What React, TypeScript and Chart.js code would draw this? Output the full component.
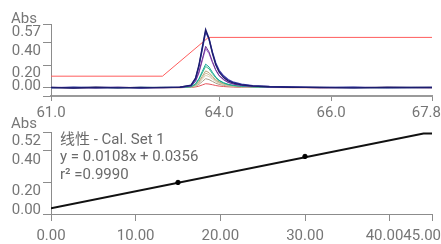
import React, { useEffect, useRef } from "react";
import { Chart, registerables } from "chart.js";

Chart.register(...registerables);

// ---------- Chromatogram (top) ----------
const retentionTimes = [61.0, 61.4, 61.8, 62.2, 62.6, 63.0, 63.3, 63.5, 63.58, 63.64, 63.7, 63.76, 63.82, 63.88, 63.94, 64.0, 64.08, 64.16, 64.26, 64.4, 64.6, 64.9, 65.3, 65.8, 66.4, 67.0, 67.8];

const seriesNavy = [0.002, -0.003, 0.003, -0.002, 0.002, 0.0, 0.004, 0.022, 0.085, 0.2, 0.36, 0.52, 0.44, 0.31, 0.205, 0.14, 0.09, 0.06, 0.04, 0.025, 0.015, 0.008, 0.004, 0.002, -0.002, 0.003, 0.001];
const seriesBlue = [-0.002, 0.003, -0.001, 0.002, -0.003, 0.002, 0.003, 0.02, 0.08, 0.19, 0.345, 0.5, 0.435, 0.32, 0.22, 0.155, 0.105, 0.072, 0.048, 0.03, 0.018, 0.01, 0.005, 0.001, 0.003, -0.002, 0.002];
const seriesPurple = [0.001, -0.002, 0.002, 0.003, -0.001, 0.002, 0.002, 0.015, 0.06, 0.14, 0.255, 0.37, 0.32, 0.235, 0.16, 0.11, 0.072, 0.048, 0.032, 0.02, 0.012, 0.006, 0.003, -0.001, 0.002, 0.001, -0.001];
const seriesViolet = [0.003, 0.001, -0.002, 0.001, 0.002, -0.002, 0.003, 0.013, 0.055, 0.13, 0.24, 0.35, 0.305, 0.225, 0.155, 0.105, 0.07, 0.046, 0.03, 0.019, 0.011, 0.006, 0.002, 0.002, -0.001, 0.002, 0.0];
const seriesTeal = [-0.001, 0.002, 0.001, -0.002, 0.003, 0.001, 0.002, 0.009, 0.035, 0.08, 0.145, 0.21, 0.185, 0.138, 0.095, 0.066, 0.044, 0.03, 0.02, 0.013, 0.008, 0.004, 0.002, 0.001, 0.002, -0.001, 0.001];
const seriesGreen = [0.002, -0.001, 0.002, 0.001, -0.002, 0.003, 0.001, 0.008, 0.03, 0.072, 0.13, 0.19, 0.168, 0.126, 0.088, 0.061, 0.041, 0.028, 0.018, 0.012, 0.007, 0.004, 0.001, 0.002, -0.001, 0.001, 0.002];
const seriesTan1 = [0.0, 0.002, -0.002, 0.002, 0.001, 0.002, -0.001, 0.006, 0.024, 0.056, 0.102, 0.15, 0.134, 0.102, 0.072, 0.051, 0.035, 0.024, 0.016, 0.01, 0.006, 0.003, 0.002, -0.001, 0.001, 0.002, 0.0];
const seriesTan2 = [0.001, -0.002, 0.001, 0.0, 0.002, -0.001, 0.002, 0.005, 0.02, 0.048, 0.088, 0.13, 0.116, 0.089, 0.063, 0.045, 0.031, 0.021, 0.014, 0.009, 0.005, 0.003, 0.001, 0.002, 0.0, -0.001, 0.001];
const seriesTan3 = [-0.002, 0.001, 0.002, -0.001, 0.0, 0.002, 0.001, 0.004, 0.017, 0.04, 0.074, 0.11, 0.099, 0.076, 0.054, 0.039, 0.027, 0.018, 0.012, 0.008, 0.005, 0.002, 0.002, 0.0, 0.001, 0.002, -0.001];
const seriesGrey = [0.002, 0.0, -0.001, 0.002, 0.001, 0.0, 0.002, 0.003, 0.012, 0.029, 0.054, 0.08, 0.072, 0.056, 0.04, 0.029, 0.02, 0.014, 0.009, 0.006, 0.004, 0.002, 0.0, 0.001, 0.002, 0.0, 0.001];
const seriesRed = [0.001, -0.001, 0.002, 0.0, -0.002, 0.001, 0.0, 0.002, 0.006, 0.013, 0.024, 0.035, 0.032, 0.026, 0.019, 0.014, 0.01, 0.007, 0.005, 0.003, 0.002, 0.001, 0.0, -0.001, 0.001, 0.0, 0.002];

const chromSeries = [seriesNavy, seriesBlue, seriesPurple, seriesViolet, seriesTeal, seriesGreen, seriesTan1, seriesTan2, seriesTan3, seriesGrey, seriesRed];
const chromColors = ["#1c1c6e", "#3a3aa8", "#6b2d92", "#9d62c8", "#12a396", "#3cbf8a", "#b8a47c", "#cbbd98", "#dad0b4", "#a79e88", "#e5535b"];

const methodTimes = [61.0, 62.99, 63.81, 67.8];
const methodValues = [0.1025, 0.1025, 0.45, 0.45];

const chromXTicks = [61.0, 64.0, 66.0, 67.8];
const chromYMin = -0.075;
const chromYTicks = [chromYMin, 0, 0.2, 0.4, 0.57];

// ---------- Calibration (bottom) ----------
const calConc = [15, 30];
const calAbs = [0.2, 0.365];
const fitConc = [0, 44, 45];
const fitAbs = [0.0356, 0.5108, 0.5108];
const calXTicks = [0, 10, 20, 30, 40, 45];
const calYTicks = [0, 0.2, 0.4, 0.52];
const annotationLines = ["线性 - Cal. Set 1", "y = 0.0108x + 0.0356", "r² =0.9990"];
const axisTitle = "Abs";

const FONT = "Roboto, 'Noto Sans CJK SC', sans-serif";
const TEXT = "#767676";
const AXIS = "#8c8c8c";

function makeLabelTweak(yShift: number, zeroShift: number) {
  return {
    id: "labelTweak",
    beforeDraw(chart: any) {
      const ctx = chart.ctx;
      const xs = chart.scales.x;
      const ys = chart.scales.y;
      const xItems = xs.getLabelItems();
      ctx.save();
      const widths = xItems.map((it: any) => {
        ctx.font = it.font.string;
        return ctx.measureText(String(it.label)).width;
      });
      ctx.restore();
      for (let i = xItems.length - 1; i >= 0; i--) {
        const tr = xItems[i].options.translation;
        let limit = chart.width - widths[i] / 2;
        if (i < xItems.length - 1) {
          limit = Math.min(limit, xItems[i + 1].options.translation[0] - widths[i + 1] / 2 - widths[i] / 2);
        }
        tr[0] = Math.min(tr[0], limit);
      }
      const yItems = ys.getLabelItems();
      yItems.forEach((it: any) => {
        if (it.label === "") return;
        it.options.translation[1] += it.label === "0.00" ? zeroShift : yShift;
      });
    },
  };
}

function makeTextPlugin(titleBaseline: number, lines: string[], firstBaseline: number, lineGap: number) {
  return {
    id: "texts",
    afterDraw(chart: any) {
      const ctx = chart.ctx;
      ctx.save();
      ctx.font = `15px ${FONT}`;
      ctx.fillStyle = TEXT;
      ctx.textAlign = "left";
      ctx.textBaseline = "alphabetic";
      ctx.fillText(axisTitle, 11, titleBaseline);
      ctx.fillStyle = "#6a6a6a";
      lines.forEach((ln, i) => ctx.fillText(ln, 60, firstBaseline + i * lineGap));
      ctx.restore();
    },
  };
}

function axisCommon(tickLength: number) {
  return {
    grid: { display: true, drawOnChartArea: false, drawTicks: true, tickLength, color: AXIS },
    border: { display: true, color: AXIS, width: 1 },
  };
}

function ChromChart() {
  const ref = useRef<HTMLCanvasElement>(null);
  useEffect(() => {
    const datasets: any[] = chromSeries.map((s, k) => ({
      data: retentionTimes.map((t, i) => ({ x: t, y: s[i] })),
      borderColor: chromColors[k],
      borderWidth: k < 2 ? 1.4 : 1,
      showLine: true,
      pointRadius: 0,
      tension: 0,
    }));
    datasets.push({
      data: methodTimes.map((t, i) => ({ x: t, y: methodValues[i] })),
      borderColor: "#ff5c5c",
      borderWidth: 1,
      showLine: true,
      pointRadius: 0,
      tension: 0,
    });
    const chart = new Chart(ref.current!, {
      type: "scatter",
      data: { datasets },
      options: {
        responsive: false,
        animation: false,
        layout: { padding: { top: 24, right: 9, left: 0, bottom: 0 } },
        plugins: { legend: { display: false }, tooltip: { enabled: false } },
        scales: {
          x: {
            type: "linear",
            min: 61.0,
            max: 67.8,
            ...axisCommon(5),
            border: { display: true, color: "#9a9a9a", width: 2 },
            afterBuildTicks: (s: any) => { s.ticks = chromXTicks.map((v) => ({ value: v })); },
            afterFit: (s: any) => { s.paddingLeft = 0; s.paddingRight = 0; s.height = 24; },
            ticks: {
              autoSkip: false, maxRotation: 0, minRotation: 0, padding: 3,
              color: TEXT, font: { family: FONT, size: 15 },
              callback: (v: any) => Number(v).toFixed(1),
            },
          },
          y: {
            type: "linear",
            min: chromYMin,
            max: 0.57,
            ...axisCommon(8),
            afterBuildTicks: (s: any) => { s.ticks = chromYTicks.map((v) => ({ value: v })); },
            afterFit: (s: any) => { s.width = 51; s.paddingTop = 0; s.paddingBottom = 0; },
            ticks: {
              autoSkip: false, padding: 2,
              color: TEXT, font: { family: FONT, size: 15 },
              callback: (v: any) => (Number(v) === chromYMin ? "" : Number(v).toFixed(2)),
            },
          },
        },
      } as any,
      plugins: [makeLabelTweak(8, -1), makeTextPlugin(22.5, [], 0, 0)],
    });
    return () => chart.destroy();
  }, []);
  return <canvas ref={ref} width={441} height={120} style={{ position: "absolute", left: 0, top: 0 }} />;
}

function CalChart() {
  const ref = useRef<HTMLCanvasElement>(null);
  useEffect(() => {
    const chart = new Chart(ref.current!, {
      type: "scatter",
      data: {
        datasets: [
          {
            data: calConc.map((c, i) => ({ x: c, y: calAbs[i] })),
            backgroundColor: "#000",
            borderColor: "#000",
            pointRadius: 2.2,
            pointStyle: "circle",
            showLine: false,
          },
          {
            data: fitConc.map((c, i) => ({ x: c, y: fitAbs[i] })),
            borderColor: "#111",
            borderWidth: 2,
            showLine: true,
            pointRadius: 0,
            tension: 0,
          },
        ],
      },
      options: {
        responsive: false,
        animation: false,
        layout: { padding: { top: 20, right: 9, left: 0, bottom: 0 } },
        plugins: { legend: { display: false }, tooltip: { enabled: false } },
        scales: {
          x: {
            type: "linear",
            min: 0,
            max: 45,
            ...axisCommon(7),
            afterBuildTicks: (s: any) => { s.ticks = calXTicks.map((v) => ({ value: v })); },
            afterFit: (s: any) => { s.paddingLeft = 0; s.paddingRight = 0; s.height = 30; },
            ticks: {
              autoSkip: false, maxRotation: 0, minRotation: 0, padding: 6,
              color: TEXT, font: { family: FONT, size: 15 },
              callback: (v: any) => Number(v).toFixed(2),
            },
          },
          y: {
            type: "linear",
            min: 0,
            max: 0.52,
            ...axisCommon(8),
            afterBuildTicks: (s: any) => { s.ticks = calYTicks.map((v) => ({ value: v })); },
            afterFit: (s: any) => { s.width = 51; s.paddingTop = 0; s.paddingBottom = 0; },
            ticks: {
              autoSkip: false, padding: 2,
              color: TEXT, font: { family: FONT, size: 15 },
              callback: (v: any) => Number(v).toFixed(2),
            },
          },
        },
      } as any,
      plugins: [makeLabelTweak(9, -4), makeTextPlugin(15.5, annotationLines, 31.5, 17.5)],
    });
    return () => chart.destroy();
  }, []);
  return <canvas ref={ref} width={441} height={132} style={{ position: "absolute", left: 0, top: 112 }} />;
}

export default function App() {
  return (
    <div style={{ position: "absolute", left: 0, top: 0, width: 441, height: 244, background: "#fff", overflow: "hidden" }}>
      <ChromChart />
      <CalChart />
    </div>
  );
}
